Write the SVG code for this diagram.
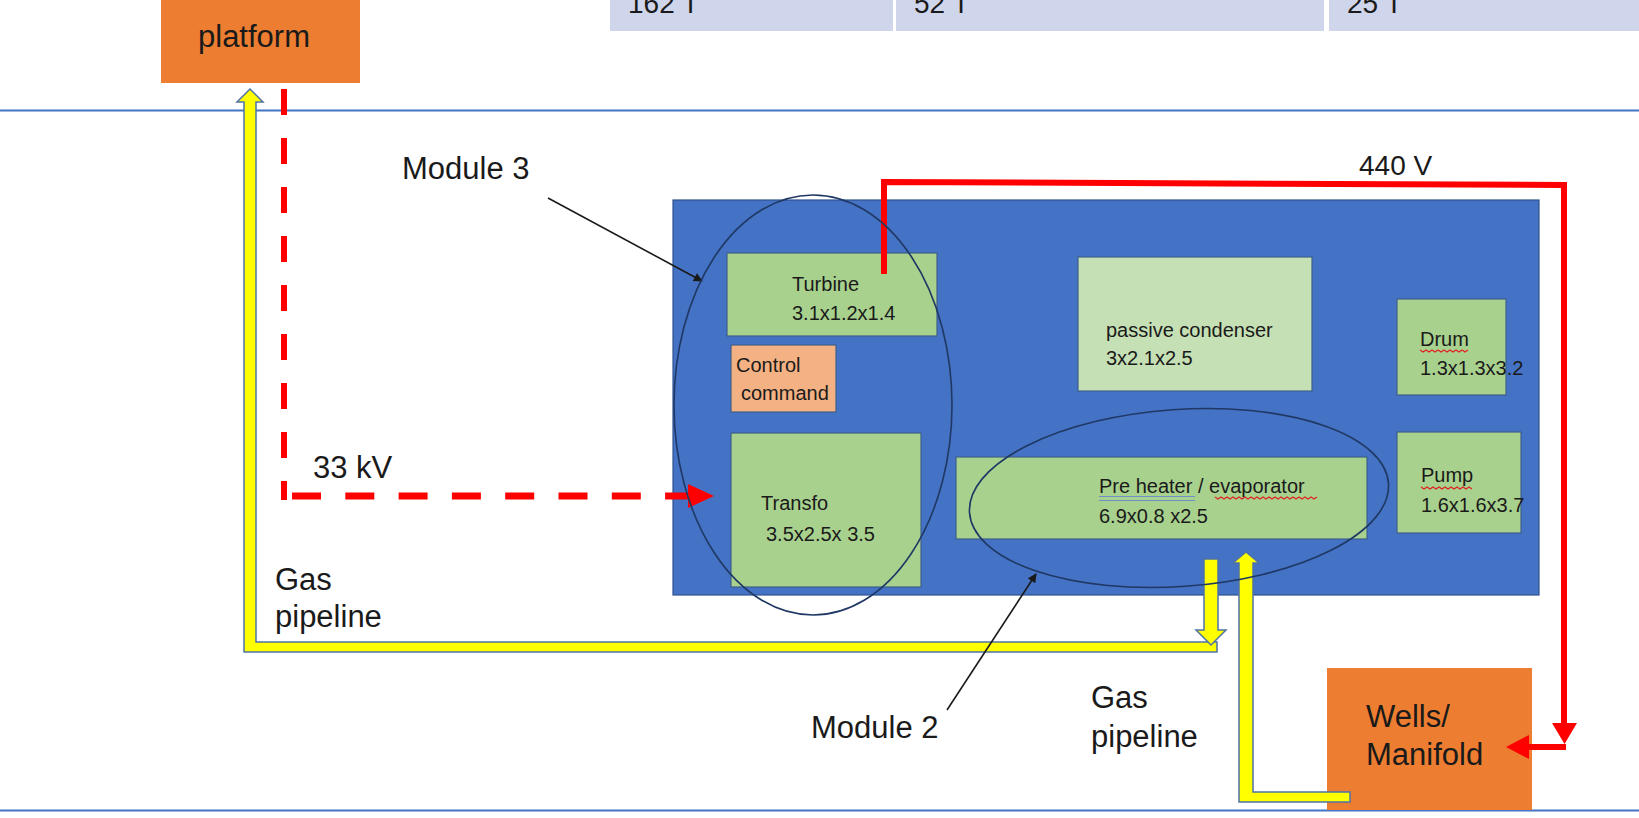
<svg xmlns="http://www.w3.org/2000/svg" width="1639" height="818" viewBox="0 0 1639 818">
<style>
text{font-family:"Liberation Sans",Arial,sans-serif;fill:#1a1a1a}
.big{font-size:31px}
.sm{font-size:20px}
.top{font-size:28px}
.cell{fill:#CFD5EA}
.rule{stroke:#4472C4;stroke-width:2}
.orange{fill:#ED7D31}
.box{fill:#A9D18E;stroke:#3E5F8A;stroke-width:1.2}
.pipe{fill:#FFFF00;stroke:#4F73A6;stroke-width:1.5;stroke-linejoin:miter}
.red{fill:none;stroke:#FF0000;stroke-width:6}
.redfill{fill:#FF0000}
.ell{fill:none;stroke:#1F3864;stroke-width:1.6}
.ptr{stroke:#1a1a1a;stroke-width:1.6}
.sq{fill:none;stroke:#E02020;stroke-width:1.1}
</style>
<defs>
<marker id="ah" viewBox="0 0 10 10" refX="9" refY="5" markerWidth="11" markerHeight="9" markerUnits="userSpaceOnUse" orient="auto">
<path d="M0,0 L10,5 L0,10 z" fill="#1a1a1a"/>
</marker>
</defs>
<rect width="1639" height="818" fill="#FFFFFF"/>

<g id="table">
<rect class="cell" x="610" y="0" width="283" height="31"/>
<rect class="cell" x="896" y="0" width="428" height="31"/>
<rect class="cell" x="1329" y="0" width="310" height="31"/>
<text class="top" x="628" y="13">162 T</text>
<text class="top" x="914" y="13">52 T</text>
<text class="top" x="1347" y="13">25 T</text>
</g>

<g id="rules">
<line class="rule" x1="0" y1="110.5" x2="1639" y2="110.5"/>
<line class="rule" x1="0" y1="810.5" x2="1639" y2="810.5"/>
</g>

<g id="platform">
<rect class="orange" x="161" y="0" width="199" height="83"/>
<text class="big" x="198" y="47">platform</text>
</g>

<g id="module-frame">
<rect x="673" y="200" width="866" height="395" fill="#4472C4" stroke="#2F528F" stroke-width="1.2"/>
</g>

<g id="turbine">
<rect class="box" x="727" y="253" width="210" height="83"/>
<text class="sm" x="792" y="291">Turbine</text>
<text class="sm" x="792" y="320">3.1x1.2x1.4</text>
</g>

<g id="control-command">
<rect x="731" y="345" width="105" height="67" fill="#F4B183" stroke="#3E5F8A" stroke-width="1.2"/>
<text class="sm" x="736" y="372">Control</text>
<text class="sm" x="741" y="400">command</text>
</g>

<g id="transfo">
<rect class="box" x="731" y="433" width="190" height="154"/>
<text class="sm" x="761" y="510">Transfo</text>
<text class="sm" x="766" y="541">3.5x2.5x 3.5</text>
</g>

<g id="passive-condenser">
<rect x="1078" y="257" width="234" height="134" fill="#C5E0B4" stroke="#3E5F8A" stroke-width="1.2"/>
<text class="sm" x="1106" y="337">passive condenser</text>
<text class="sm" x="1106" y="365">3x2.1x2.5</text>
</g>

<g id="drum">
<rect class="box" x="1397" y="299" width="109" height="96"/>
<text class="sm" x="1420" y="346">Drum</text>
<path class="sq" d="M1420,350 l3,2 l3,-2 l3,2 l3,-2 l3,2 l3,-2 l3,2 l3,-2 l3,2 l3,-2 l3,2 l3,-2 l3,2 l3,-2 l3,2 l3,-2"/>
<text class="sm" x="1420" y="375">1.3x1.3x3.2</text>
</g>

<g id="pump">
<rect class="box" x="1397" y="432" width="124" height="101"/>
<text class="sm" x="1421" y="482">Pump</text>
<path class="sq" d="M1421,487 l3,2 l3,-2 l3,2 l3,-2 l3,2 l3,-2 l3,2 l3,-2 l3,2 l3,-2 l3,2 l3,-2 l3,2 l3,-2 l3,2 l3,-2 l3,2"/>
<text class="sm" x="1421" y="512">1.6x1.6x3.7</text>
</g>

<g id="preheater">
<rect class="box" x="956" y="457" width="411" height="82"/>
<text class="sm" x="1099" y="493">Pre heater / evaporator</text>
<line x1="1099" y1="496.5" x2="1195" y2="496.5" stroke="#6F8FC8" stroke-width="1.2"/>
<line x1="1099" y1="500.5" x2="1195" y2="500.5" stroke="#6F8FC8" stroke-width="1.2"/>
<path class="sq" d="M1215,497 l3,2 l3,-2 l3,2 l3,-2 l3,2 l3,-2 l3,2 l3,-2 l3,2 l3,-2 l3,2 l3,-2 l3,2 l3,-2 l3,2 l3,-2 l3,2 l3,-2 l3,2 l3,-2 l3,2 l3,-2 l3,2 l3,-2 l3,2 l3,-2 l3,2 l3,-2 l3,2 l3,-2 l3,2 l3,-2 l3,2 l3,-2"/>
<text class="sm" x="1099" y="523">6.9x0.8 x2.5</text>
</g>

<g id="wells-manifold">
<rect class="orange" x="1327" y="668" width="205" height="142"/>
<text class="big" x="1366" y="727">Wells/</text>
<text class="big" x="1366" y="765">Manifold</text>
</g>

<g id="connectors">
<polygon class="pipe" points="250,89 263,102 256,102 256,642 1217,642 1217,652 244,652 244,102 237,102"/>
<polygon class="pipe" points="1204,559 1218,559 1218,630 1226,630 1211,645 1196,630 1204,630"/>
<polygon class="pipe" points="1246,552 1259,563 1253,563 1253,792 1350,792 1350,802 1239,802 1239,563 1233,563"/>

<line x1="284" y1="89" x2="284" y2="500" stroke="#FF0000" stroke-width="6" stroke-dasharray="26 23"/>
<line x1="292" y1="496" x2="692" y2="496" stroke="#FF0000" stroke-width="7" stroke-dasharray="29 24.3"/>
<polygon class="redfill" points="688,484 714,496 688,508"/>

<path class="red" d="M884,274 V182 L1564,185 V726"/>
<polygon class="redfill" points="1552,723 1577,723 1564.5,744"/>
<line x1="1566" y1="747" x2="1526" y2="747" stroke="#FF0000" stroke-width="6"/>
<polygon class="redfill" points="1529,735 1529,759 1506,747"/>

<line class="ptr" x1="548" y1="198" x2="702" y2="281" marker-end="url(#ah)"/>
<line class="ptr" x1="947" y1="710" x2="1036" y2="574" marker-end="url(#ah)"/>
</g>

<g id="module-3">
<ellipse class="ell" cx="813" cy="405" rx="139" ry="210"/>
<text class="big" x="402" y="179">Module 3</text>
</g>

<g id="module-2">
<ellipse class="ell" cx="1179" cy="498" rx="210" ry="88.5" transform="rotate(-4 1179 498)"/>
<text class="big" x="811" y="738">Module 2</text>
</g>

<g id="labels">
<text class="big" x="313" y="478">33 kV</text>
<text class="top" x="1359" y="175">440 V</text>
<text class="big" x="275" y="590">Gas</text>
<text class="big" x="275" y="627">pipeline</text>
<text class="big" x="1091" y="708">Gas</text>
<text class="big" x="1091" y="747">pipeline</text>
</g>
</svg>
